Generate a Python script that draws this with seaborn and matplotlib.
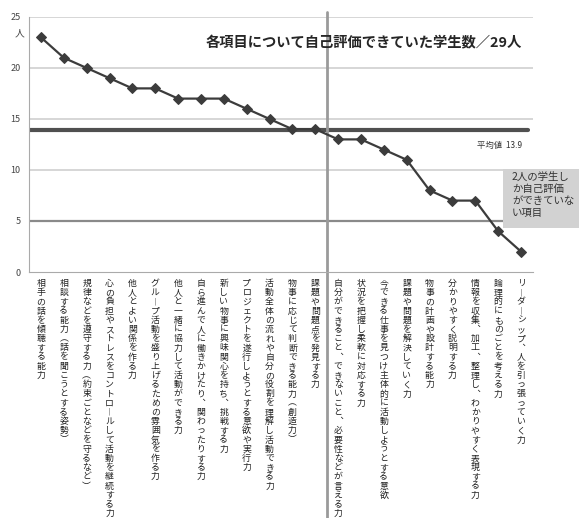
import numpy as np
import pandas as pd
import matplotlib
matplotlib.use("Agg")
import matplotlib.pyplot as plt
import seaborn as sns

sns.set_style("white")
plt.rcParams['font.family'] = ['Noto Sans CJK JP', 'DejaVu Sans']

# data
skills = [
    "相手の話を傾聴する能力",
    "相談する能力（話を聞こうとする姿勢）",
    "規律などを遵守する力（約束ごとなどを守るなど）",
    "心の負担やストレスをコントロールして活動を継続する力",
    "他人とよい関係を作る力",
    "グループ活動を盛り上げるための雰囲気を作る力",
    "他人と一緒に協力して活動ができる力",
    "自ら進んで人に働きかけたり、関わったりする力",
    "新しい物事に興味関心を持ち、挑戦する力",
    "プロジェクトを遂行しようとする意欲や実行力",
    "活動全体の流れや自分の役割を理解し活動できる力",
    "物事に応じて判断できる能力（創造力）",
    "課題や問題点を発見する力",
    "自分ができること、できないこと、必要性などが言える力",
    "状況を把握し柔軟に対応する力",
    "今できる仕事を見つけ主体的に活動しようとする意欲",
    "課題や問題を解決していく力",
    "物事の計画や設計する能力",
    "分かりやすく説明する力",
    "情報を収集、加工、整理し、わかりやすく表現する力",
    "論理的にものごとを考える力",
    "リーダーシップ、人を引っ張っていく力",
]
students = [23, 21, 20, 19, 18, 18, 17, 17, 17, 16, 15, 14, 14, 13, 13, 12, 11, 8, 7, 7, 4, 2]
mean_value = 13.9
title = "各項目について自己評価できていた学生数／29人"
note = "2人の学生し\nか自己評価\nができていな\nい項目"

df = pd.DataFrame({"pos": np.arange(len(skills)), "skill": skills, "n": students})


def tategaki(s):
    # stack characters top to bottom, with vertical forms for a few signs
    swap = {"ー": "︱", "、": "︑", "（": "︵", "）": "︶"}
    return "\n".join(swap.get(c, c) for c in s)


fig = plt.figure(figsize=(5.79, 5.18), dpi=100)
ax = fig.add_axes([0.050, 0.4749, 0.8706, 0.4923])

for v in [10, 15, 20, 25]:
    ax.axhline(v, color="#d0d0d0", lw=1.2, zorder=0)
ax.axhline(5, color="#8a8a8a", lw=1.6, zorder=0)
ax.axhline(mean_value, xmax=0.99, color="#505050", lw=3, zorder=1)
ax.axvline(12.5, ymin=-0.965, ymax=1.02, color="#9a9a9a", lw=2, clip_on=False, zorder=1)

sns.lineplot(data=df, x="pos", y="n", ax=ax, color="#3c3c3c", lw=1.6,
             marker="D", markersize=5.5, markeredgecolor="#3c3c3c", zorder=3)

ax.set_xlim(-0.525, len(skills) - 0.475)
ax.set_ylim(0, 25)
ax.set_yticks([0, 5, 10, 15, 20, 25])
ax.tick_params(axis="y", labelsize=6.5, colors="#444444", length=0, pad=6)
ax.set_xticks(df["pos"])
ax.set_xticklabels([tategaki(s) for s in skills], fontsize=6.4, va="top",
                   linespacing=1.03, color="#222222")
ax.tick_params(axis="x", length=0, pad=5)
ax.set_xticks(np.arange(len(skills) + 1) - 0.5, minor=True)
ax.tick_params(axis="x", which="minor", length=3, color="#aaaaaa", direction="out")
ax.set_xlabel("")
ax.set_ylabel("")

sns.despine(ax=ax, top=True, right=True)
ax.spines["left"].set_color("#aaaaaa")
ax.spines["bottom"].set_color("#aaaaaa")

fig.text(0.0345, 0.936, "人", fontsize=7, color="#444444", ha="center", va="center")
fig.text(0.629, 0.917, title, fontsize=10.3, fontweight="bold", ha="center", va="center")
fig.text(0.862, 0.72, "平均値  13.9", fontsize=6, color="#333333", ha="center", va="center")
fig.patches.append(plt.Rectangle((503 / 579, 1 - 228 / 518), 76 / 579, 59 / 518,
                                 transform=fig.transFigure, facecolor="#d2d2d2",
                                 edgecolor="none", zorder=0))
fig.text(512 / 579, 1 - 172 / 518, note, fontsize=7.5, color="#333333",
         ha="left", va="top", linespacing=1.25)

fig.savefig("out.png", dpi=100)
